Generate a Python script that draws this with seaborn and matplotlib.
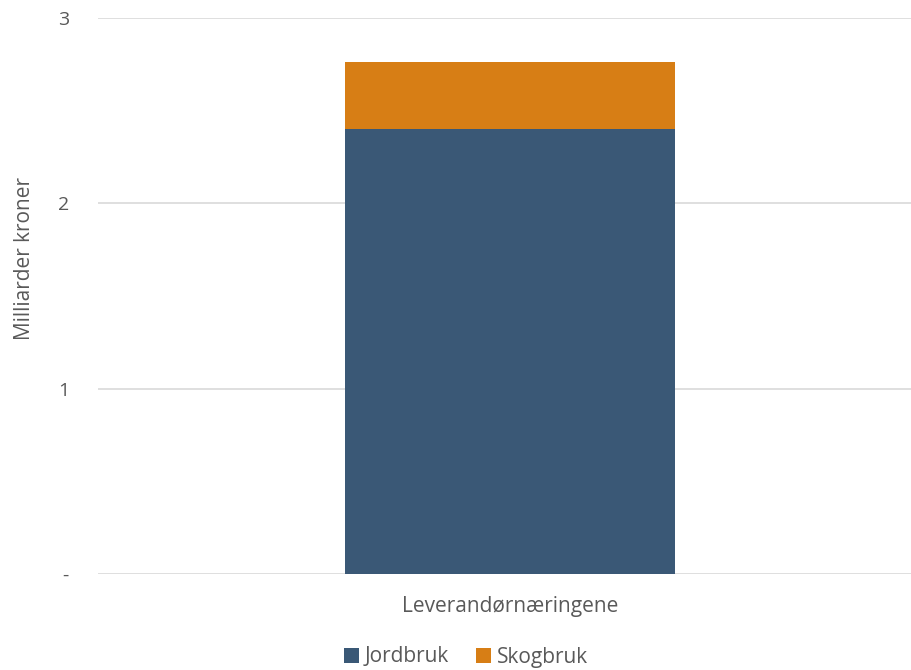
import matplotlib.pyplot as plt
import seaborn as sns
import pandas as pd

categories = ["Leverandørnæringene"]
jordbruk = [2.40]
skogbruk = [0.36]
y_ticks = [0, 1, 2, 3]
y_ticklabels = ["-", "1", "2", "3"]

sns.set_theme(style="white")
plt.rcParams["font.family"] = ["Open Sans", "DejaVu Sans"]

df = pd.DataFrame({"kategori": categories, "Jordbruk": jordbruk, "Skogbruk": skogbruk})

fig = plt.figure(figsize=(9.12, 6.7), dpi=100)
ax = fig.add_axes([98 / 912, 96 / 670, 814 / 912, 556 / 670])

blue = "#3A5876"
orange = "#D77E15"

sns.barplot(data=df, x="kategori", y="Jordbruk", color=blue, width=0.405,
            ax=ax, label="Jordbruk", zorder=3, saturation=1, linewidth=0)
sns.barplot(data=df, x="kategori", y="Skogbruk", bottom=df["Jordbruk"], color=orange,
            width=0.405, ax=ax, label="Skogbruk", zorder=3, saturation=1, linewidth=0)

ax.set_ylim(0, 3)
ax.set_xlim(-412 / 814, 402 / 814)
ax.set_yticks(y_ticks)
ax.set_yticklabels(y_ticklabels)
ax.yaxis.grid(True, color="#D9D9D9", linewidth=1.2, zorder=0)
ax.set_axisbelow(True)
for s in ax.spines.values():
    s.set_visible(False)
ax.tick_params(axis="y", length=0, labelsize=14, colors="#595959", pad=21)
ax.tick_params(axis="x", length=0, labelsize=15, colors="#595959", pad=16)
ax.set_xlabel("")
ax.set_ylabel("Milliarder kroner", fontsize=15, color="#595959", labelpad=16)
ax.yaxis.set_label_coords(-0.078, 0.567)

handles, labels = ax.get_legend_handles_labels()
if ax.get_legend() is not None:
    ax.get_legend().remove()
fig.legend(handles, labels, loc="center", bbox_to_anchor=(466 / 912, 1 - 657 / 670),
           ncol=2, frameon=False, fontsize=15, labelcolor="#595959",
           handlelength=0.7, handleheight=0.7, handletextpad=0.3, columnspacing=1.3)

plt.savefig("out.png", dpi=100)
